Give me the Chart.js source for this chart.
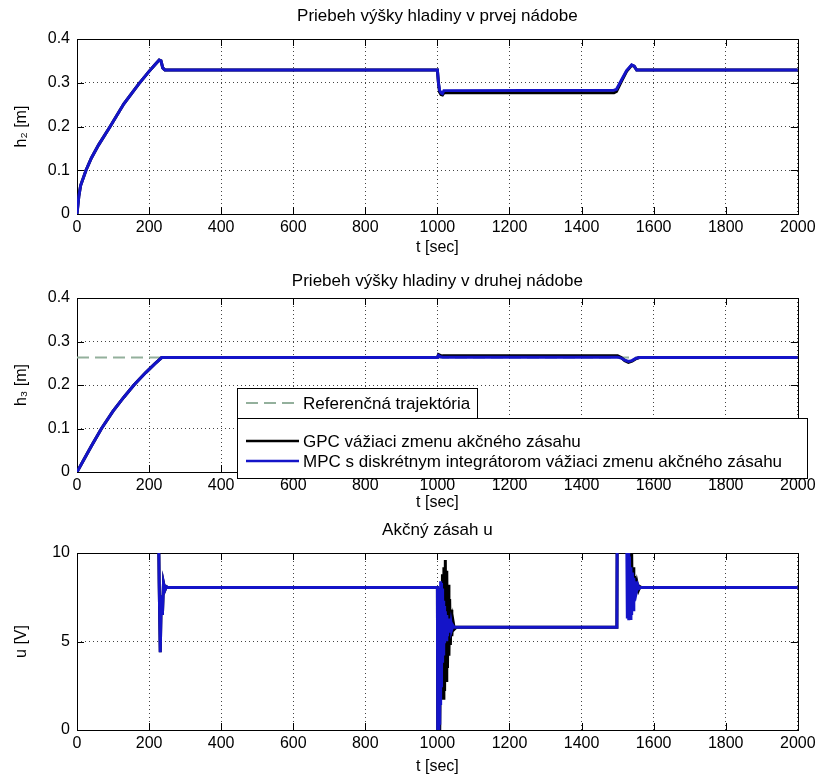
<!DOCTYPE html>
<html>
<head>
<meta charset="utf-8">
<title>Priebeh výšky hladiny</title>
<script src="https://cdn.jsdelivr.net/npm/chart.js@4.4.1/dist/chart.umd.min.js"></script>
<style>
  html, body { margin: 0; padding: 0; background: #fff; }
  #wrap { position: relative; width: 820px; height: 778px; }
  #wrap canvas { position: absolute; left: 0; }
</style>
</head>
<body>
<div id="wrap">
  <canvas id="plotH2" width="820" height="262" style="top:0"></canvas>
  <canvas id="plotH3" width="820" height="254" style="top:262px"></canvas>
  <canvas id="plotU" width="820" height="262" style="top:516px"></canvas>
</div>
<script>
// tick labels
const timeTicks = [0, 200, 400, 600, 800, 1000, 1200, 1400, 1600, 1800, 2000];
const levelTicks = [0, 0.1, 0.2, 0.3, 0.4];
const voltTicks = [0, 5, 10];

// h2 - first tank level [m]
const h2Time = [0, 5, 10, 25, 40, 60, 92, 130, 171, 200, 215, 228, 233, 238, 244, 1000, 1003, 1006, 1010, 1014, 1018, 1490, 1497, 1510, 1525, 1539, 1546, 1553, 2000];
const h2Gpc = [0, 0.04, 0.065, 0.1, 0.128, 0.158, 0.2, 0.252, 0.297, 0.326, 0.34, 0.352, 0.35, 0.334, 0.329, 0.329, 0.298, 0.279, 0.273, 0.272, 0.277, 0.277, 0.28, 0.302, 0.326, 0.34, 0.338, 0.329, 0.329];
const h2Mpc = [0, 0.04, 0.065, 0.1, 0.128, 0.158, 0.2, 0.252, 0.297, 0.326, 0.34, 0.352, 0.35, 0.334, 0.329, 0.329, 0.3, 0.283, 0.277, 0.275, 0.282, 0.283, 0.285, 0.305, 0.328, 0.341, 0.338, 0.329, 0.329];

// h3 - second tank level [m]
const h3Time = [0, 20, 40, 68, 100, 130, 158, 190, 215, 235, 1000, 1003, 1008, 1015, 1500, 1510, 1520, 1530, 1540, 1550, 1560, 2000];
const h3Gpc = [0, 0.03, 0.06, 0.1, 0.14, 0.172, 0.2, 0.228, 0.248, 0.263, 0.263, 0.27, 0.268, 0.267, 0.267, 0.263, 0.256, 0.252, 0.255, 0.26, 0.263, 0.263];
const h3Mpc = [0, 0.03, 0.06, 0.1, 0.14, 0.172, 0.2, 0.228, 0.248, 0.263, 0.263, 0.268, 0.265, 0.264, 0.264, 0.262, 0.257, 0.254, 0.256, 0.261, 0.263, 0.263];
const refTime = [0, 2000];
const h3Ref = [0.263, 0.263];

// u - control action [V] (values above 10 are cut off by the axis)
const uGpcTime = [0, 226, 228, 231, 234, 237, 240, 244, 248, 252, 1000, 1001, 1006, 1008, 1010, 1012, 1014, 1016, 1018, 1020, 1022, 1024, 1026, 1028, 1030, 1032, 1034, 1036, 1038, 1040, 1043, 1047, 1052, 1498, 1499, 1527, 1529, 1531, 1533, 1535, 1537, 1539, 1541, 1543, 1545, 1547, 1550, 1554, 1558, 1562, 1566, 2000];
const uGpc = [12, 12, 8.3, 4.4, 7.6, 6.5, 8.3, 7.9, 8.1, 8.05, 8.05, -1, -1, 3.0, 7.5, 2.0, 8.8, 1.8, 9.2, 2.2, 9.6, 2.8, 9.0, 3.5, 8.2, 4.2, 7.4, 4.8, 6.8, 5.3, 6.2, 5.7, 5.8, 5.8, 12, 12, 8.8, 12, 8.6, 11, 6.6, 10, 7.0, 9.2, 7.4, 8.7, 7.7, 8.3, 7.9, 8.1, 8.05, 8.05];
const uMpcTime = [0, 226, 228, 231, 234, 237, 240, 244, 248, 252, 1000, 1001, 1004, 1005, 1006, 1007, 1008, 1009, 1010, 1011, 1012, 1013, 1014, 1015, 1016, 1017, 1018, 1019, 1020, 1022, 1024, 1026, 1028, 1030, 1032, 1034, 1036, 1038, 1040, 1043, 1046, 1498, 1499, 1525, 1527, 1529, 1531, 1533, 1535, 1537, 1539, 1541, 1543, 1545, 1547, 1549, 1552, 1556, 1560, 1565, 2000];
const uMpc = [12, 12, 8.3, 4.4, 7.6, 6.5, 8.3, 7.9, 8.1, 8.05, 8.05, -1, -1, 4.0, 0.3, 6.5, 1.5, 8.4, 2.5, 8.3, 3.2, 8.0, 3.8, 7.6, 4.3, 7.3, 4.6, 7.0, 4.9, 6.7, 5.1, 6.5, 5.3, 6.3, 5.5, 6.1, 5.6, 6.0, 5.7, 5.9, 5.8, 5.8, 12, 12, 6.3, 10.5, 6.2, 9.8, 6.3, 9.2, 6.5, 8.9, 6.8, 8.6, 7.3, 8.4, 7.8, 8.2, 8.0, 8.05, 8.05];

const FONT = "'Liberation Sans', Arial, sans-serif";
const BLUE = '#1414c8';
const REF_COLOR = '#93b09c';

Chart.defaults.font.family = FONT;
Chart.defaults.color = '#000';

function points(xs, ys) {
    return xs.map(function(x, i) { return { x: x, y: ys[i] }; });
}

function series(label, xs, ys, color, order, dash) {
    return {
        label: label,
        data: points(xs, ys),
        borderColor: color,
        backgroundColor: color,
        borderWidth: dash ? 2 : 3,
        borderDash: dash || [],
        pointRadius: 0,
        tension: 0,
        fill: false,
        order: order
    };
}

// matlab style box with tick marks pointing inwards
const axesBox = {
    id: 'axesBox',
    beforeDatasetsDraw(chart) {
        const ctx = chart.ctx;
        const a = chart.chartArea;
        const tl = 7;
        ctx.save();
        ctx.strokeStyle = '#000';
        ctx.lineWidth = 1;
        ctx.strokeRect(Math.round(a.left) + 0.5, Math.round(a.top) + 0.5,
                       Math.round(a.right - a.left), Math.round(a.bottom - a.top));
        ctx.beginPath();
        chart.scales.x.ticks.forEach(function(t) {
            const px = Math.round(chart.scales.x.getPixelForValue(t.value)) + 0.5;
            ctx.moveTo(px, a.bottom); ctx.lineTo(px, a.bottom - tl);
            ctx.moveTo(px, a.top); ctx.lineTo(px, a.top + tl);
        });
        chart.scales.y.ticks.forEach(function(t) {
            const py = Math.round(chart.scales.y.getPixelForValue(t.value)) + 0.5;
            ctx.moveTo(a.left, py); ctx.lineTo(a.left + tl, py);
            ctx.moveTo(a.right, py); ctx.lineTo(a.right - tl, py);
        });
        ctx.stroke();
        ctx.restore();
    }
};

// two legend boxes drawn over the second plot
const boxLegend = {
    id: 'boxLegend',
    afterDatasetsDraw(chart) {
        if (!chart.options.plugins.boxLegend.show) return;
        const ctx = chart.ctx;
        const sets = chart.data.datasets;
        ctx.save();
        ctx.font = '17px ' + FONT;
        ctx.textBaseline = 'middle';
        ctx.lineWidth = 1;
        ctx.fillStyle = '#fff';
        ctx.strokeStyle = '#000';
        ctx.fillRect(237.5, 126.5, 240, 30);
        ctx.strokeRect(237.5, 126.5, 240, 30);
        ctx.fillRect(237.5, 156.5, 570, 60);
        ctx.strokeRect(237.5, 156.5, 570, 60);
        const rows = [141, 179, 199];
        sets.forEach(function(ds, i) {
            ctx.save();
            ctx.strokeStyle = ds.borderColor;
            ctx.lineWidth = ds.borderDash.length ? 2 : 2.4;
            ctx.setLineDash(ds.borderDash);
            ctx.beginPath();
            ctx.moveTo(246, rows[i]);
            ctx.lineTo(299, rows[i]);
            ctx.stroke();
            ctx.restore();
            ctx.fillStyle = '#000';
            ctx.fillText(ds.label, 303, rows[i] + 1);
        });
        ctx.restore();
    }
};

function makePlot(id, cfg) {
    const grid = { color: '#444', lineWidth: 1, drawTicks: false };
    return new Chart(document.getElementById(id), {
        type: 'line',
        data: { datasets: cfg.datasets },
        options: {
            responsive: false,
            animation: false,
            layout: { padding: { left: 0, right: 19, top: 0, bottom: 0 } },
            plugins: {
                legend: { display: false },
                tooltip: { enabled: false },
                boxLegend: { show: !!cfg.legend },
                title: {
                    display: true,
                    fullSize: false,
                    text: cfg.title,
                    color: '#000',
                    font: { size: 17, weight: 'normal' },
                    padding: { top: cfg.titleTop, bottom: cfg.titleBottom }
                }
            },
            scales: {
                x: {
                    type: 'linear',
                    min: 0,
                    max: 2000,
                    afterBuildTicks: function(s) { s.ticks = timeTicks.map(function(v) { return { value: v }; }); },
                    afterFit: function(s) { s.height = cfg.xHeight; },
                    ticks: { padding: 4.4, font: { size: 16 }, color: '#000', maxRotation: 0, autoSkip: false,
                             callback: function(v) { return String(v); } },
                    grid: grid,
                    border: { display: false, dash: [1, 3] },
                    title: { display: true, text: 't [sec]', color: '#000', font: { size: 16, lineHeight: 1 },
                             padding: { top: 0, bottom: cfg.xTitleBottom } }
                },
                y: {
                    type: 'linear',
                    min: cfg.yTicks[0],
                    max: cfg.yTicks[cfg.yTicks.length - 1],
                    afterBuildTicks: function(s) { s.ticks = cfg.yTicks.map(function(v) { return { value: v }; }); },
                    afterFit: function(s) { s.width = 77; },
                    ticks: { padding: 7, font: { size: 16 }, color: '#000', autoSkip: false,
                             callback: function(v) { return String(v); } },
                    grid: grid,
                    border: { display: false, dash: [1, 3] },
                    title: { display: true, text: cfg.yLabel, color: '#000', font: { size: 16 },
                             padding: { top: 12, bottom: 0 } }
                }
            }
        },
        plugins: [axesBox, boxLegend]
    });
}

makePlot('plotH2', {
    title: 'Priebeh výšky hladiny v prvej nádobe',
    yLabel: 'h₂ [m]',
    yTicks: levelTicks,
    titleTop: 5.8, titleBottom: 12.8, xHeight: 48, xTitleBottom: 6,
    datasets: [
        series('MPC s diskrétnym integrátorom vážiaci zmenu akčného zásahu', h2Time, h2Mpc, BLUE, 0),
        series('GPC vážiaci zmenu akčného zásahu', h2Time, h2Gpc, '#000', 1)
    ]
});

makePlot('plotH3', {
    title: 'Priebeh výšky hladiny v druhej nádobe',
    yLabel: 'h₃ [m]',
    yTicks: levelTicks,
    legend: true,
    titleTop: 8.8, titleBottom: 6.8, xHeight: 44, xTitleBottom: 5,
    datasets: [
        series('Referenčná trajektória', refTime, h3Ref, REF_COLOR, 2, [12, 6]),
        series('GPC vážiaci zmenu akčného zásahu', h3Time, h3Gpc, '#000', 1),
        series('MPC s diskrétnym integrátorom vážiaci zmenu akčného zásahu', h3Time, h3Mpc, BLUE, 0)
    ]
});

makePlot('plotU', {
    title: 'Akčný zásah u',
    yLabel: 'u [V]',
    yTicks: voltTicks,
    titleTop: 3.8, titleBottom: 12.8, xHeight: 48, xTitleBottom: 3,
    datasets: [
        series('MPC s diskrétnym integrátorom vážiaci zmenu akčného zásahu', uMpcTime, uMpc, BLUE, 0),
        series('GPC vážiaci zmenu akčného zásahu', uGpcTime, uGpc, '#000', 1)
    ]
});
</script>
</body>
</html>
